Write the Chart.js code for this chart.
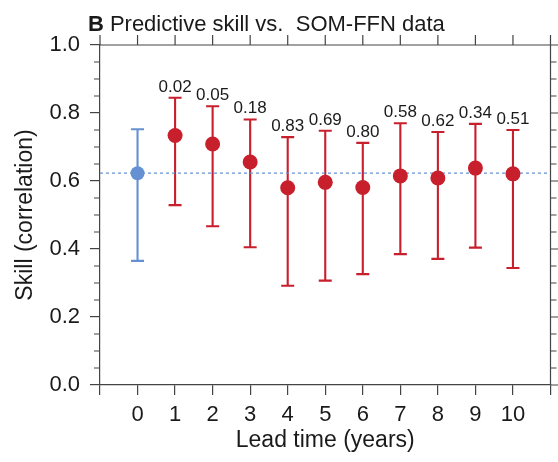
<!DOCTYPE html>
<html>
<head>
<meta charset="utf-8">
<script src="https://cdn.jsdelivr.net/npm/chart.js@4.4.0/dist/chart.umd.min.js"></script>
<style>
  html, body { margin: 0; padding: 0; background: #fff; }
</style>
</head>
<body>
<canvas id="skill-chart" width="558" height="462"></canvas>
<script>
// values
var leadTimes = [0, 1, 2, 3, 4, 5, 6, 7, 8, 9, 10];
var skill = [0.623, 0.734, 0.709, 0.656, 0.580, 0.596, 0.581, 0.615, 0.609, 0.638, 0.621];
var upper = [0.752, 0.845, 0.820, 0.781, 0.729, 0.748, 0.712, 0.770, 0.744, 0.768, 0.750];
var lower = [0.365, 0.529, 0.467, 0.405, 0.292, 0.307, 0.326, 0.385, 0.371, 0.404, 0.344];
var pValues = ['', '0.02', '0.05', '0.18', '0.83', '0.69', '0.80', '0.58', '0.62', '0.34', '0.51'];
var persistence = 0.623;

var red = '#c81f2d';
var blue = '#6591d2';
var axisColor = '#444';
var textColor = '#1a1a1a';
var fontFamily = '"Liberation Sans", Arial, Helvetica, sans-serif';

var bluePoints = [];
var redPoints = [];
leadTimes.forEach(function(t, i) {
  if (t === 0) bluePoints.push({x: t, y: skill[i]});
  else redPoints.push({x: t, y: skill[i]});
});

var extrasPlugin = {
  id: 'extras',
  beforeDatasetsDraw: function(chart) {
    var ctx = chart.ctx, xs = chart.scales.x, ys = chart.scales.y;
    ctx.save();
    ctx.lineWidth = 2.1;
    leadTimes.forEach(function(t, i) {
      var px = xs.getPixelForValue(t);
      var top = ys.getPixelForValue(upper[i]);
      var bot = ys.getPixelForValue(lower[i]);
      ctx.strokeStyle = t === 0 ? blue : red;
      ctx.beginPath();
      ctx.moveTo(px, top); ctx.lineTo(px, bot);
      ctx.moveTo(px - 6.5, top); ctx.lineTo(px + 6.5, top);
      ctx.moveTo(px - 6.5, bot); ctx.lineTo(px + 6.5, bot);
      ctx.stroke();
    });
    ctx.restore();
  },
  afterDraw: function(chart) {
    var ctx = chart.ctx, xs = chart.scales.x, ys = chart.scales.y, a = chart.chartArea;
    ctx.save();
    // p-values above the upper whiskers
    ctx.fillStyle = textColor;
    ctx.font = '17px ' + fontFamily;
    ctx.textAlign = 'center';
    ctx.textBaseline = 'alphabetic';
    leadTimes.forEach(function(t, i) {
      if (!pValues[i]) return;
      ctx.fillText(pValues[i], xs.getPixelForValue(t), ys.getPixelForValue(upper[i]) - 6);
    });

    // top and right frame with ticks
    ctx.strokeStyle = axisColor;
    ctx.lineWidth = 1.2;
    ctx.beginPath();
    ctx.moveTo(a.left, a.top); ctx.lineTo(a.right, a.top); ctx.lineTo(a.right, a.bottom);
    for (var t = -1; t <= 11; t++) {
      var px = xs.getPixelForValue(t);
      ctx.moveTo(px, a.top); ctx.lineTo(px, a.top - 10);
    }
    for (var k = 0; k <= 20; k++) {
      var py = ys.getPixelForValue(k * 0.05);
      var len = k % 4 === 0 ? 10 : 6;
      ctx.moveTo(a.right, py); ctx.lineTo(a.right + len, py);
      if (k % 4 !== 0) { ctx.moveTo(a.left, py); ctx.lineTo(a.left - 6, py); }
    }
    ctx.stroke();

    // panel title
    ctx.textAlign = 'left';
    ctx.fillStyle = textColor;
    ctx.font = 'bold 22px ' + fontFamily;
    ctx.fillText('B', 88, 31);
    var w = ctx.measureText('B').width;
    ctx.font = '22px ' + fontFamily;
    ctx.fillText('Predictive skill vs.  SOM-FFN data', 88 + w + 6, 31);
    ctx.restore();
  }
};

var ctx = document.getElementById('skill-chart').getContext('2d');
var skillChart = new Chart(ctx, {
  type: 'scatter',
  data: {
    datasets: [
      {
        label: 'Persistence',
        data: bluePoints,
        backgroundColor: blue,
        borderColor: blue,
        pointRadius: 7,
        pointBorderWidth: 0
      },
      {
        label: 'SOM-FFN',
        data: redPoints,
        backgroundColor: red,
        borderColor: red,
        pointRadius: 7.5,
        pointBorderWidth: 0
      },
      {
        label: 'Persistence level',
        data: [{x: -1, y: persistence}, {x: 11, y: persistence}],
        showLine: true,
        borderColor: blue,
        borderWidth: 1.3,
        borderDash: [3, 3],
        pointRadius: 0
      }
    ]
  },
  options: {
    responsive: false,
    animation: false,
    devicePixelRatio: 1,
    layout: { padding: { top: 45, right: 7, left: 0, bottom: 0 } },
    plugins: {
      legend: { display: false },
      tooltip: { enabled: false }
    },
    scales: {
      x: {
        type: 'linear',
        min: -1,
        max: 11,
        afterFit: function(scale) { scale.height = 77; },
        ticks: {
          stepSize: 1,
          autoSkip: false,
          maxRotation: 0,
          padding: 7,
          color: textColor,
          font: { size: 22, family: fontFamily },
          callback: function(v) { return (v < 0 || v > 10) ? '' : v; }
        },
        grid: { drawOnChartArea: false, tickLength: 10, color: axisColor, lineWidth: 1.2 },
        border: { color: axisColor, width: 1.2 },
        title: {
          display: true,
          text: 'Lead time (years)',
          color: textColor,
          font: { size: 23, family: fontFamily },
          padding: { top: 0, bottom: 8 }
        }
      },
      y: {
        min: 0,
        max: 1,
        afterFit: function(scale) { scale.width = 100; },
        ticks: {
          stepSize: 0.2,
          padding: 10,
          color: textColor,
          font: { size: 22, family: fontFamily },
          callback: function(v) { return v.toFixed(1); }
        },
        grid: { drawOnChartArea: false, tickLength: 10, color: axisColor, lineWidth: 1.2 },
        border: { color: axisColor, width: 1.2 },
        title: {
          display: true,
          text: 'Skill (correlation)',
          color: textColor,
          font: { size: 23, family: fontFamily },
          padding: { top: 12, bottom: 0 }
        }
      }
    }
  },
  plugins: [extrasPlugin]
});
</script>
</body>
</html>
